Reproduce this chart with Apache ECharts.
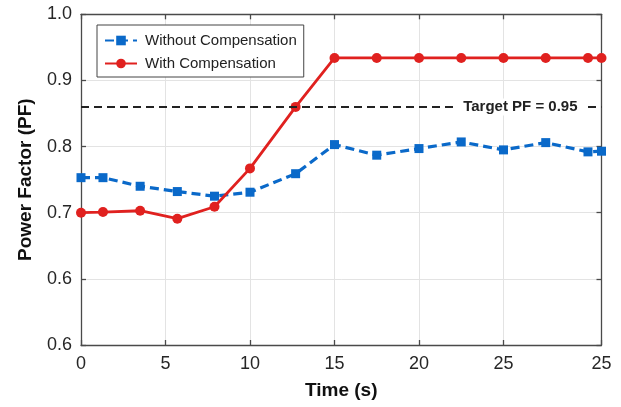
<!DOCTYPE html>
<html>
<head>
<meta charset="utf-8">
<script src="https://cdn.jsdelivr.net/npm/echarts@6/dist/echarts.min.js"></script>
<style>
html,body{margin:0;padding:0;background:#fff;}
#chart{width:621px;height:407px;}
</style>
</head>
<body>
<div id="chart"></div>
<script>
// Data
const timeValues = [0, 1.3, 3.5, 5.7, 7.9, 10, 12.7, 15, 17.5, 20, 22.5, 25, 27.5, 30, 30.8];
const withoutComp = [0.753, 0.753, 0.740, 0.732, 0.725, 0.731, 0.759, 0.803, 0.787, 0.797, 0.807, 0.795, 0.806, 0.792, 0.793];
const withComp    = [0.700, 0.701, 0.703, 0.691, 0.709, 0.767, 0.860, 0.934, 0.934, 0.934, 0.934, 0.934, 0.934, 0.934, 0.934];
const targetLine = 0.86;
const targetLabel = 'Target PF = 0.95';
const xTickValues = [0, 5, 10, 15, 20, 25, 30.8];
const xTickLabels = ['0', '5', '10', '15', '20', '25', '25'];
const yTickValues = [0.5, 0.6, 0.7, 0.8, 0.9, 1.0];
const yTickLabels = ['0.6', '0.6', '0.7', '0.8', '0.9', '1.0'];
const seriesNames = ['Without Compensation', 'With Compensation'];
const xAxisName = 'Time (s)';
const yAxisName = 'Power Factor (PF)';

const FONT = '"Liberation Sans", Arial, Helvetica, sans-serif';
const pairs = (xs, ys) => xs.map((x, i) => [x, ys[i]]);
const xMin = xTickValues[0], xMax = xTickValues[xTickValues.length - 1];
const yMin = yTickValues[0], yMax = yTickValues[yTickValues.length - 1];
const fmtX = v => { const i = xTickValues.findIndex(t => Math.abs(t - v) < 1e-6); return i >= 0 ? xTickLabels[i] : ''; };
const fmtY = v => { const i = yTickValues.findIndex(t => Math.abs(t - v) < 1e-6); return i >= 0 ? yTickLabels[i] : ''; };

const axisLineStyle = { color: '#4a4a4a', width: 1.3 };
const chart = echarts.init(document.getElementById('chart'), null, { renderer: 'canvas' });
chart.setOption({
  animation: false,
  backgroundColor: '#fff',
  grid: { left: 81, right: 19.5, top: 14.3, bottom: 62, containLabel: false },
  legend: {
    orient: 'vertical',
    left: 97, top: 25,
    padding: [8, 7, 6, 7],
    itemGap: 8,
    itemWidth: 32, itemHeight: 12,
    backgroundColor: '#fff',
    borderColor: '#444', borderWidth: 1, borderRadius: 0,
    textStyle: { fontFamily: FONT, fontSize: 15, color: '#222', padding: [0, 0, 0, 3] },
    data: seriesNames
  },
  xAxis: [{
    type: 'value', min: xMin, max: xMax,
    name: xAxisName, nameLocation: 'middle', nameGap: 36,
    nameTextStyle: { fontFamily: FONT, fontSize: 19, fontWeight: 'bold', color: '#111' },
    axisLine: { show: true, onZero: false, lineStyle: axisLineStyle },
    axisTick: { show: true, inside: true, length: 5, customValues: xTickValues, lineStyle: axisLineStyle },
    axisLabel: { customValues: xTickValues, formatter: fmtX, fontFamily: FONT, fontSize: 18, color: '#262626', margin: 10 },
    splitLine: { show: true, lineStyle: { color: '#e3e3e3', width: 1 } }
  }, {
    type: 'value', position: 'top', min: xMin, max: xMax,
    axisLine: { show: true, onZero: false, lineStyle: axisLineStyle },
    axisTick: { show: true, inside: true, length: 5, customValues: xTickValues, lineStyle: axisLineStyle },
    axisLabel: { show: false },
    splitLine: { show: false }
  }],
  yAxis: [{
    type: 'value', min: yMin, max: yMax, interval: 0.1,
    name: yAxisName, nameLocation: 'middle', nameGap: 46,
    nameTextStyle: { fontFamily: FONT, fontSize: 19, fontWeight: 'bold', color: '#111' },
    axisLine: { show: true, onZero: false, lineStyle: axisLineStyle },
    axisTick: { show: true, inside: true, length: 5, lineStyle: axisLineStyle },
    axisLabel: { formatter: fmtY, fontFamily: FONT, fontSize: 18, color: '#262626', margin: 9 },
    splitLine: { show: true, lineStyle: { color: '#e3e3e3', width: 1 } }
  }, {
    type: 'value', position: 'right', min: yMin, max: yMax, interval: 0.1,
    axisLine: { show: true, onZero: false, lineStyle: axisLineStyle },
    axisTick: { show: true, inside: true, length: 5, lineStyle: axisLineStyle },
    axisLabel: { show: false },
    splitLine: { show: false }
  }],
  series: [{
    name: seriesNames[0], type: 'line',
    data: pairs(timeValues, withoutComp),
    symbol: 'rect', symbolSize: 9,
    itemStyle: { color: '#0a69c9' },
    lineStyle: { color: '#0a69c9', width: 3.2, type: [9, 5] },
    z: 3,
    markLine: {
      silent: true, symbol: 'none',
      lineStyle: { color: '#222', width: 2, type: [8, 5] },
      label: {
        show: true, position: 'insideEnd', formatter: targetLabel, distance: 18,
        fontFamily: FONT, fontSize: 15, fontWeight: 'bold', color: '#222',
        backgroundColor: '#fff', padding: [1, 6]
      },
      data: [{ yAxis: targetLine }]
    }
  }, {
    name: seriesNames[1], type: 'line',
    data: pairs(timeValues, withComp),
    symbol: 'circle', symbolSize: 10,
    itemStyle: { color: '#e0211f' },
    lineStyle: { color: '#e0211f', width: 2.8 },
    z: 4
  }]
});
</script>
</body>
</html>
